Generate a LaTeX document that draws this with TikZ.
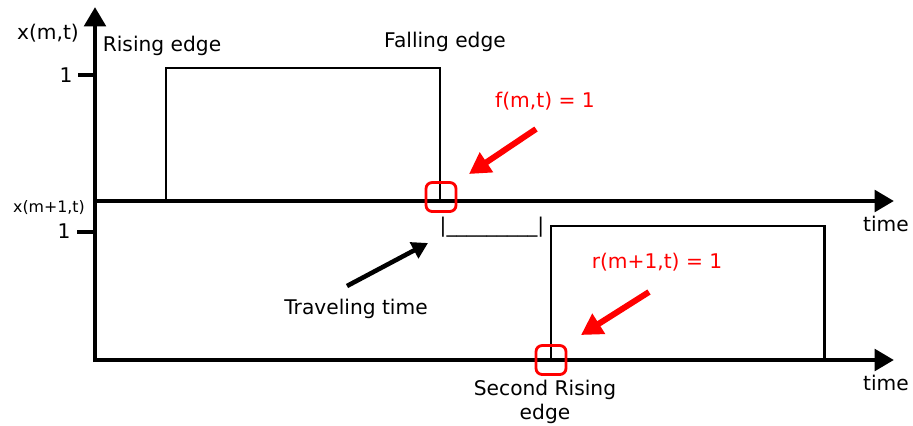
\documentclass[tikz,border=0pt]{standalone}
\usepackage{fontspec}
\setmainfont{DejaVu Sans}
\usetikzlibrary{positioning, calc, arrows.meta}

\tikzset{
  axis/.style={line width=2.8pt, -{Triangle[length=11pt,width=12pt]}},
  tickline/.style={line width=2.4pt},
  pulse/.style={line width=1.7pt},
  edgebox/.style={draw=red, line width=1.6pt, rounded corners=3.5pt,
    minimum width=0.6cm, minimum height=0.58cm, inner sep=0pt},
  callout/.style={red, line width=3.4pt, -{Triangle[length=12pt,width=13pt]}},
  pointer/.style={line width=2.6pt, -{Triangle[length=9pt,width=10pt]}},
  redlabel/.style={text=red}
}

\begin{document}
\begin{tikzpicture}[x=0.02cm, y=-0.02cm, font=\fontsize{11.5}{13.5}\selectfont]
            \useasboundingbox (0,0) rectangle (913,426);

            % Axes
            \coordinate (yb) at (95,362);
            \coordinate (yt) at (95,7);
            \coordinate (a1) at (95,201);
            \coordinate (e1) at (894,201);
            \coordinate (a2) at (93,360);
            \coordinate (e2) at (894,360);
            \draw[axis] (yb) -- (yt);
            \draw[axis] (a1) -- (e1);
            \draw[axis] (a2) -- (e2);

            % Ticks and axis labels
            \coordinate (t1) at (78,75);
            \coordinate (t1r) at (95,75);
            \coordinate (t2) at (77,232);
            \coordinate (t2r) at (95,232);
            \draw[tickline] (t1) -- (t1r);
            \draw[tickline] (t2) -- (t2r);
            \node (one1) at (66,75) {1};
            \node (one2) at (64,231) {1};
            \node (xm) at (48,33) {x(m,t)};
            \node[font=\fontsize{9}{11}\selectfont] (xm1) at (49,208) {x(m+1,t)};
            \node (time1) at (886,224) {time};
            \node (time2) at (886,383) {time};

            % First pulse
            \draw[pulse] (166,201) -- (166,68) -- (440,68) -- (440,201);
            \node (rise) at (162,46) {Rising edge};
            \node (fall) at (445,42) {Falling edge};

            % Second pulse
            \draw[pulse] (551,360) -- (551,226) -- (824,226) -- (824,360);
            \node[align=center] (second) at (545,402) {Second Rising\\edge};

            % Edge markers
            \node[edgebox] (fbox) at (441,197) {};
            \node[edgebox] (rbox) at (551,360) {};
            \node[redlabel] (flab) at (545,101) {f(m,t) = 1};
            \node[redlabel] (rlab) at (657,262) {r(m+1,t) = 1};
            \coordinate (fs) at (536,129);
            \coordinate (fe) at (469,174);
            \coordinate (rs) at (649,292);
            \coordinate (re) at (581,335);
            \draw[callout] (fs) -- (fe);
            \draw[callout] (rs) -- (re);

            % Traveling time
            \node (gap) at (492,227) {|\_\_\_\_\_\_\_\_\_|};
            \node (travel) at (356,309) {Traveling time};
            \coordinate (ps) at (347,286);
            \coordinate (pe) at (428,243);
            \draw[pointer] (ps) -- (pe);

\end{tikzpicture}
\end{document}
